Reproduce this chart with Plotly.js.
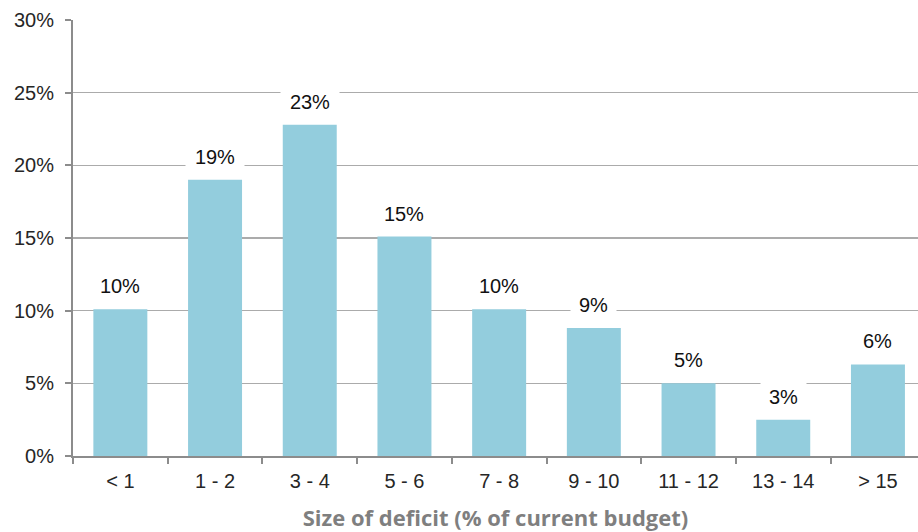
<!DOCTYPE html>
<html>
<head>
<meta charset="utf-8">
<script src="https://cdn.plot.ly/plotly-3.0.1.min.js"></script>
<style>
  html, body { margin: 0; padding: 0; background: #ffffff; }
  #chart { width: 918px; height: 532px; }
</style>
</head>
<body>
<div id="chart"></div>
<script>
// Deficit size bands (% of current budget) and the share of cases in each band
const categories = ['< 1', '1 - 2', '3 - 4', '5 - 6', '7 - 8', '9 - 10', '11 - 12', '13 - 14', '> 15'];
const shares = [10.1, 19.0, 22.8, 15.1, 10.1, 8.8, 5.0, 2.5, 6.3];
const yTickValues = [0, 5, 10, 15, 20, 25, 30];

const labelFont = { family: "'Liberation Sans', Arial, Helvetica, sans-serif", size: 20, color: '#262626' };

// Rounded value labels sitting on white boxes above each bar
const valueLabels = shares.map(v => Math.round(v) + '%');
const annotations = categories.map((c, i) => ({
  x: c,
  y: shares[i],
  xref: 'x',
  yref: 'y',
  text: valueLabels[i],
  showarrow: false,
  yanchor: 'middle',
  yshift: 23,
  bgcolor: '#ffffff',
  width: valueLabels[i].length * 13 + 19,
  height: 30,
  borderpad: 0,
  font: Object.assign({}, labelFont, { color: '#111111' })
}));

const trace = {
  type: 'bar',
  x: categories,
  y: shares,
  width: 0.57,
  marker: { color: '#93cddd', line: { width: 0 } },
  hoverinfo: 'x+y'
};

const layout = {
  width: 918,
  height: 532,
  margin: { l: 73, r: 0, t: 20, b: 76 },
  paper_bgcolor: '#ffffff',
  plot_bgcolor: '#ffffff',
  showlegend: false,
  xaxis: {
    type: 'category',
    range: [-0.5, 8.423],
    tickson: 'boundaries',
    ticks: 'outside',
    ticklen: 6,
    tickwidth: 2,
    tickcolor: '#8c8c8c',
    ticklabelstandoff: 6,
    showline: true,
    linecolor: '#8c8c8c',
    linewidth: 2,
    showgrid: false,
    tickfont: labelFont,
    title: {
      text: 'Size of deficit (% of current budget)',
      font: { family: "'Open Sans', sans-serif", size: 22, weight: 700, color: '#7f7f7f' },
      standoff: 20
    },
    automargin: false,
    fixedrange: true
  },
  yaxis: {
    range: [0, 30],
    tickvals: yTickValues,
    ticktext: yTickValues.map(v => v + '%'),
    ticks: 'outside',
    ticklen: 6,
    tickwidth: 2,
    tickcolor: '#8c8c8c',
    ticklabelstandoff: 7,
    showline: true,
    linecolor: '#8c8c8c',
    linewidth: 2,
    showgrid: true,
    gridcolor: '#ababab',
    gridwidth: 1.5,
    zeroline: false,
    tickfont: labelFont,
    automargin: false,
    fixedrange: true
  },
  annotations: annotations
};

Plotly.newPlot('chart', [trace], layout, { displayModeBar: false, staticPlot: true });
</script>
</body>
</html>
